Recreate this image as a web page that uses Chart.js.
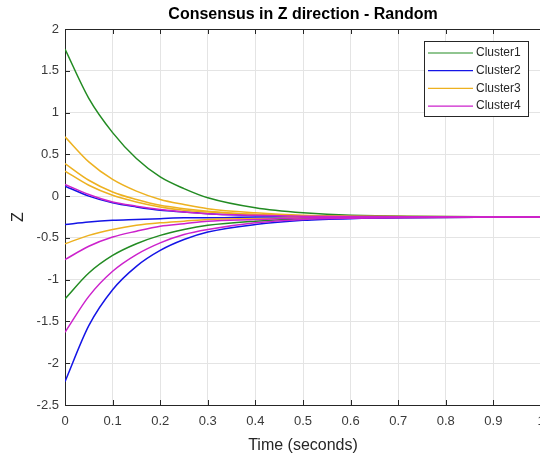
<!DOCTYPE html>
<html>
<head>
<meta charset="utf-8">
<script src="https://cdn.jsdelivr.net/npm/chart.js@4"></script>
<style>
  html, body { margin: 0; padding: 0; background: #fff; overflow: hidden; }
  #wrap { position: relative; width: 560px; height: 456px; }
</style>
</head>
<body>
<div id="wrap"><canvas id="chart"></canvas></div>
<script>
/* sample times and values */
const TIMES = [0, 0.05, 0.1, 0.15, 0.2, 0.25, 0.3, 0.4, 0.5, 0.6, 1.0];
const X_TICKS = [0, 0.1, 0.2, 0.3, 0.4, 0.5, 0.6, 0.7, 0.8, 0.9, 1];
const X_TICK_LABELS = ['0', '0.1', '0.2', '0.3', '0.4', '0.5', '0.6', '0.7', '0.8', '0.9', '1'];
const Y_TICKS = [-2.5, -2, -1.5, -1, -0.5, 0, 0.5, 1, 1.5, 2];
const Y_TICK_LABELS = ['-2.5', '-2', '-1.5', '-1', '-0.5', '0', '0.5', '1', '1.5', '2'];
const CLUSTER_NAMES = ['Cluster1', 'Cluster2', 'Cluster3', 'Cluster4'];
const CLUSTER_COLORS = ['#228b22', '#1414e6', '#edb120', '#cc22cc'];
const TITLE = 'Consensus in Z direction - Random';

const cluster1 = [
  [1.76, 1.17, 0.76, 0.45, 0.23, 0.09, -0.02, -0.14, -0.20, -0.23, -0.25],
  [-1.23, -0.92, -0.71, -0.57, -0.47, -0.40, -0.35, -0.30, -0.27, -0.26, -0.25],
];
const cluster2 = [
  [-2.22, -1.55, -1.12, -0.84, -0.65, -0.52, -0.43, -0.34, -0.29, -0.27, -0.25],
  [-0.34, -0.31, -0.29, -0.28, -0.27, -0.26, -0.26, -0.25, -0.25, -0.25, -0.25],
  [0.12, 0.00, -0.08, -0.13, -0.17, -0.19, -0.21, -0.23, -0.24, -0.245, -0.25],
];
const cluster3 = [
  [0.71, 0.41, 0.20, 0.06, -0.04, -0.10, -0.15, -0.20, -0.23, -0.24, -0.25],
  [0.39, 0.19, 0.05, -0.04, -0.11, -0.15, -0.18, -0.22, -0.235, -0.245, -0.25],
  [0.30, 0.13, 0.01, -0.07, -0.13, -0.17, -0.19, -0.22, -0.24, -0.245, -0.25],
  [-0.57, -0.47, -0.40, -0.35, -0.32, -0.30, -0.28, -0.27, -0.26, -0.253, -0.25],
];
const cluster4 = [
  [0.14, 0.02, -0.07, -0.12, -0.16, -0.19, -0.21, -0.23, -0.24, -0.245, -0.25],
  [-0.76, -0.60, -0.49, -0.42, -0.36, -0.33, -0.30, -0.28, -0.26, -0.255, -0.25],
  [-1.63, -1.20, -0.90, -0.70, -0.56, -0.46, -0.40, -0.32, -0.28, -0.265, -0.25],
];

const FONT = "'Liberation Sans', Arial, sans-serif";
const AXIS = '#262626';
const TEXT = '#3a3a3a';
const GRID = '#e4e4e4';

const datasets = [];
[cluster1, cluster2, cluster3, cluster4].forEach((group, ci) => {
  group.forEach(vals => {
    datasets.push({
      label: CLUSTER_NAMES[ci],
      data: TIMES.map((t, i) => ({x: t, y: vals[i]})),
      borderColor: CLUSTER_COLORS[ci],
      borderWidth: 1.5,
      pointRadius: 0,
      fill: false,
      cubicInterpolationMode: 'monotone',
      order: 10 - ci,
    });
  });
});

/* title over the axes, box top line, inward ticks and the boxed legend */
const frame = {
  id: 'frame',
  afterDraw(chart) {
    const {ctx, chartArea: a} = chart;
    ctx.save();
    ctx.fillStyle = '#000';
    ctx.font = 'bold 16px ' + FONT;
    ctx.textAlign = 'center';
    ctx.textBaseline = 'middle';
    ctx.fillText(TITLE, (a.left + a.right) / 2, 15);
    ctx.restore();
  },
  afterDatasetsDraw(chart) {
    const {ctx, chartArea: a, scales: {x, y}} = chart;
    ctx.save();
    ctx.strokeStyle = AXIS;
    ctx.lineWidth = 1;
    ctx.beginPath();
    ctx.moveTo(a.left, a.top + 0.5);
    ctx.lineTo(a.right, a.top + 0.5);
    x.ticks.forEach(t => {
      const px = Math.round(x.getPixelForValue(t.value)) + 0.5;
      ctx.moveTo(px, a.bottom); ctx.lineTo(px, a.bottom - 5);
      ctx.moveTo(px, a.top); ctx.lineTo(px, a.top + 5);
    });
    y.ticks.forEach(t => {
      const py = Math.round(y.getPixelForValue(t.value)) + 0.5;
      ctx.moveTo(a.left, py); ctx.lineTo(a.left + 5, py);
    });
    ctx.stroke();

    // legend
    const bx = 424.5, by = 41.5, bw = 104, bh = 75;
    ctx.fillStyle = '#fff';
    ctx.fillRect(bx, by, bw, bh);
    ctx.strokeStyle = AXIS;
    ctx.strokeRect(bx, by, bw, bh);
    ctx.font = '12px ' + FONT;
    ctx.textBaseline = 'middle';
    ctx.textAlign = 'left';
    CLUSTER_NAMES.forEach((name, i) => {
      const ly = 53 + i * 17.7;
      ctx.strokeStyle = CLUSTER_COLORS[i];
      ctx.lineWidth = 1.2;
      ctx.beginPath();
      ctx.moveTo(428, ly); ctx.lineTo(473, ly);
      ctx.stroke();
      ctx.fillStyle = AXIS;
      ctx.fillText(name, 476, ly);
    });
    ctx.restore();
  },
};

new Chart(document.getElementById('chart'), {
  type: 'line',
  data: {datasets},
  plugins: [frame],
  options: {
    responsive: true,
    maintainAspectRatio: false,
    animation: false,
    layout: {padding: {top: 29, right: 19, bottom: 0, left: 0}},
    plugins: {
      legend: {display: false},
      tooltip: {enabled: false},
      title: {display: false},
    },
    scales: {
      x: {
        type: 'linear',
        min: 0, max: 1,
        afterBuildTicks: s => { s.ticks = X_TICKS.map(v => ({value: v})); },
        afterFit: s => { s.height = 51; },
        grid: {color: GRID, drawTicks: false},
        border: {color: AXIS, width: 1},
        ticks: {color: TEXT, padding: 9, maxRotation: 0, font: {family: FONT, size: 13},
                callback: (v, i) => X_TICK_LABELS[i]},
        title: {display: true, text: 'Time (seconds)', color: AXIS,
                font: {family: FONT, size: 16}, padding: {top: 0, bottom: 1}},
      },
      y: {
        type: 'linear',
        min: -2.5, max: 2,
        afterBuildTicks: s => { s.ticks = Y_TICKS.map(v => ({value: v})); },
        afterFit: s => { s.width = 65; },
        grid: {color: GRID, drawTicks: false},
        border: {color: AXIS, width: 1},
        ticks: {color: TEXT, padding: 6, font: {family: FONT, size: 13},
                callback: (v, i) => Y_TICK_LABELS[i]},
        title: {display: true, text: 'Z', color: AXIS,
                font: {family: FONT, size: 16}, padding: {top: 9, bottom: 0}},
      },
    },
  },
});
</script>
</body>
</html>
